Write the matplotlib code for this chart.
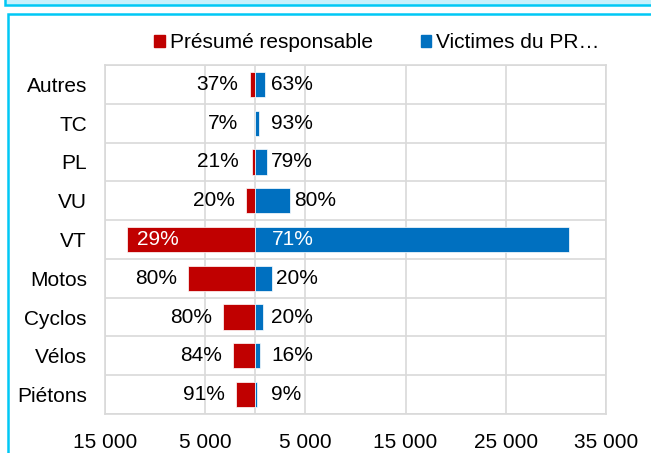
import matplotlib
matplotlib.use("Agg")
import matplotlib.pyplot as plt
from matplotlib.patches import Patch, Rectangle
from matplotlib.ticker import FuncFormatter, FixedLocator

plt.rcParams["font.family"] = ["Liberation Sans", "DejaVu Sans"]

categories = ["Autres", "TC", "PL", "VU", "VT", "Motos", "Cyclos", "Vélos", "Piétons"]
responsable = [570, 30, 320, 900, 12800, 6700, 3200, 2200, 1900]
victimes = [970, 400, 1200, 3500, 31300, 1650, 800, 420, 190]
pct_responsable = ["37%", "7%", "21%", "20%", "29%", "80%", "80%", "84%", "91%"]
pct_victimes = ["63%", "93%", "79%", "80%", "71%", "20%", "20%", "16%", "9%"]
x_ticks = [-15000, -5000, 5000, 15000, 25000, 35000]

RED = "#C00000"
BLUE = "#0070C0"
GRID = "#D9D9D9"
CYAN = "#00C8F5"
FS = 15

W, H = 651, 453
fig = plt.figure(figsize=(W / 100, H / 100), dpi=100)
ax = fig.add_axes([105 / W, 1 - 414 / H, (606 - 105) / W, (414 - 65) / H])

y = list(range(len(categories)))
ax.barh(y, [-v for v in responsable], height=0.65, color=RED,
        edgecolor="white", linewidth=0.5, zorder=3)
ax.barh(y, victimes, height=0.65, color=BLUE,
        edgecolor="white", linewidth=0.5, zorder=3)

for i in y:
    r, b = responsable[i], victimes[i]
    if r > 10000:
        ax.text(-r + 1000, i, pct_responsable[i], color="white", fontsize=FS,
                ha="left", va="center", zorder=4)
    else:
        ax.text(min(-r - 1100, -1700), i, pct_responsable[i], color="black",
                fontsize=FS, ha="right", va="center", zorder=4)
    if b > 10000:
        ax.text(1700, i, pct_victimes[i], color="white", fontsize=FS,
                ha="left", va="center", zorder=4)
    else:
        ax.text(max(b + 400, 1600), i, pct_victimes[i], color="black",
                fontsize=FS, ha="left", va="center", zorder=4)

ax.set_xlim(-15000, 35000)
ax.set_ylim(len(categories) - 0.5, -0.5)
ax.set_xticks(x_ticks)
ax.xaxis.set_major_formatter(
    FuncFormatter(lambda v, p: f"{abs(int(v)):,}".replace(",", " ")))
ax.set_yticks(y)
ax.set_yticklabels(categories)
ax.yaxis.set_minor_locator(FixedLocator([i - 0.5 for i in range(len(categories) + 1)]))
ax.tick_params(axis="both", which="both", length=0, labelsize=FS)
ax.tick_params(axis="x", pad=14)
ax.tick_params(axis="y", pad=13)

ax.grid(axis="x", which="major", color=GRID, linewidth=1.2, zorder=0)
ax.grid(axis="y", which="minor", color=GRID, linewidth=1.2, zorder=0)
ax.axvline(0, color=GRID, linewidth=1.2, zorder=2)
for s in ax.spines.values():
    s.set_color(GRID)
    s.set_linewidth(1.2)

handles = [Patch(color=RED), Patch(color=BLUE)]
fig.legend(handles, ["Présumé responsable", "Victimes du PR…"],
           loc="center", bbox_to_anchor=(377 / W, 1 - 43 / H), ncol=2,
           frameon=False, fontsize=FS, handlelength=0.5, handleheight=0.5,
           handletextpad=0.25, columnspacing=2.3)

# outer frames
fig.patches.append(Rectangle((5 / W, 1 - 5 / H), 1.2, 0.05, transform=fig.transFigure,
                             facecolor="#C8F1FC", edgecolor=CYAN, linewidth=1.8))
fig.patches.append(Rectangle((8 / W, -0.05), 1.2, 1 - 14 / H + 0.05,
                             transform=fig.transFigure, facecolor="none",
                             edgecolor=CYAN, linewidth=1.8))

fig.savefig("out.png", dpi=100)
